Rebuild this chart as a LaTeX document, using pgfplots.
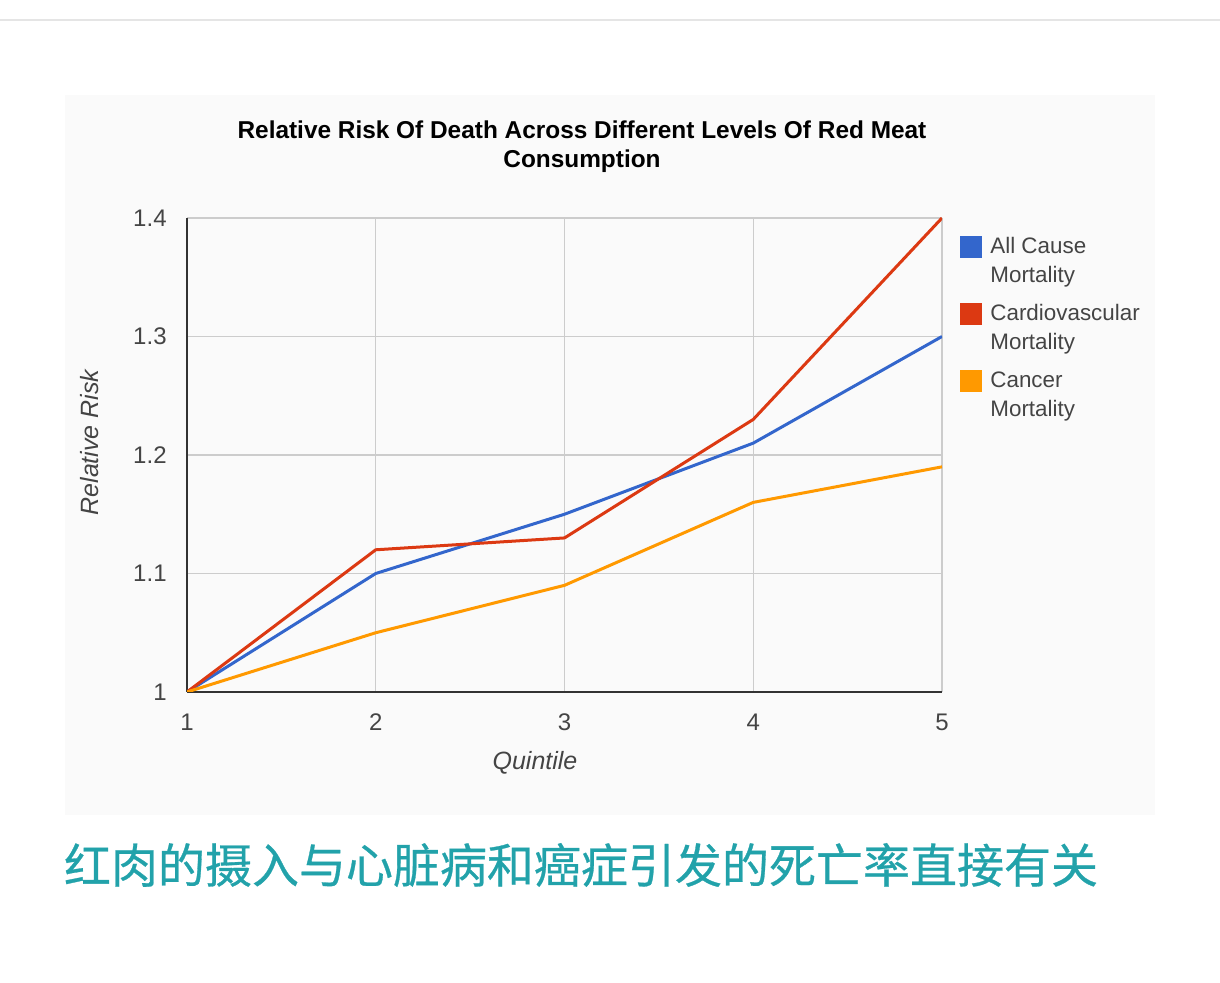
\documentclass[border=0pt]{standalone}
\usepackage{pgfplots}
\pgfplotsset{compat=1.18}
\usepackage{fontspec}
\setmainfont{Liberation Sans}
\newfontfamily\cjk[FakeBold=0.6]{Noto Sans CJK SC}
\definecolor{gblue}{HTML}{3366CC}
\definecolor{gred}{HTML}{DC3912}
\definecolor{gorange}{HTML}{FF9900}
\definecolor{tealc}{HTML}{22A2AA}
\definecolor{gridc}{HTML}{CCCCCC}
\definecolor{labc}{HTML}{444444}
\pgfplotstableread{
q all cardio cancer
1 1.00 1.00 1.00
2 1.10 1.12 1.05
3 1.15 1.13 1.09
4 1.21 1.23 1.16
5 1.30 1.40 1.19
}\riskdata
\begin{document}
\begin{tikzpicture}
\path[use as bounding box] (0pt,0pt) rectangle (610pt,491.5pt);
\fill[black!2] (32.5pt,84pt) rectangle (577.5pt,444pt);
\draw[black!10, line width=0.6pt] (0pt,481.5pt) -- (610pt,481.5pt);
\node[font=\bfseries\fontsize{12.2}{14.5}\selectfont, align=center, anchor=center] at (291pt,418pt)
  {Relative Risk Of Death Across Different Levels Of Red Meat\\Consumption};
\begin{axis}[
  at={(93.5pt,145.5pt)}, anchor=south west,
  scale only axis, width=377.5pt, height=237pt,
  xmin=1, xmax=5, ymin=1, ymax=1.4,
  xtick={1,2,3,4,5}, ytick={1,1.1,1.2,1.3,1.4},
  yticklabels={1,1.1,1.2,1.3,1.4},
  axis lines*=left,
  axis line style={draw=black!80, line width=0.8pt},
  grid=major, grid style={draw=gridc, line width=0.7pt},
  major tick length=0pt,
  tick label style={font=\fontsize{12}{14}\selectfont, text=labc},
  /pgf/number format/assume math mode=true,
  xticklabel style={anchor=center, yshift=-15pt},
  yticklabel style={anchor=east, inner sep=0pt, xshift=-10pt},
  xlabel={Quintile}, ylabel={Relative Risk},
  every axis x label/.style={at={(axis description cs:0.5,0)}, anchor=center, xshift=-14.75pt, yshift=-35.5pt,
    font=\itshape\fontsize{12.5}{14}\selectfont, text=labc},
  every axis y label/.style={at={(axis description cs:0,0.5)}, anchor=center, xshift=-48.5pt, yshift=6.25pt, rotate=90,
    font=\itshape\fontsize{12.5}{14}\selectfont, text=labc},
  legend style={at={(1,1)}, anchor=north west, xshift=6pt, yshift=-5.5pt, draw=none, fill=none,
    font=\fontsize{11.2}{14.5}\selectfont, text=labc, row sep=5.5pt,
    cells={anchor=west, align=left}},
  legend image code/.code={\path[draw=none] (0pt,0pt) -- (13pt,0pt);\fill[#1,draw=none] (0pt,1.75pt) rectangle (11pt,12.75pt);},
  legend cell align=left,
]
\addplot[gblue, line width=1.5pt] table[x=q, y=all] {\riskdata};
\addlegendentry{All Cause\\Mortality}
\addplot[gred, line width=1.5pt] table[x=q, y=cardio] {\riskdata};
\addlegendentry{Cardiovascular\\Mortality}
\addplot[gorange, line width=1.5pt] table[x=q, y=cancer] {\riskdata};
\addlegendentry{Cancer\\Mortality}
\end{axis}
\node[text=tealc, font=\cjk\fontsize{23.5}{28}\selectfont, anchor=center] at (290.5pt,59pt)
  {红肉的摄入与心脏病和癌症引发的死亡率直接有关};
\end{tikzpicture}
\end{document}
